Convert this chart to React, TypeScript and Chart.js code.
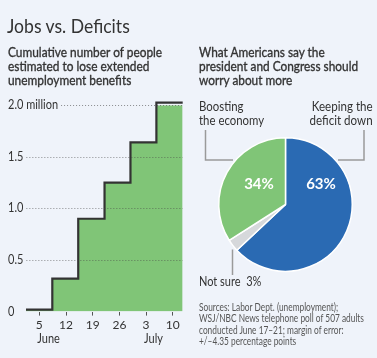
import React, { useEffect, useLayoutEffect, useRef } from 'react';
import { Chart, registerables } from 'chart.js';
Chart.register(...registerables);

// ---- Data ----
const stepDays = [1.5, 8.4, 15.2, 22.1, 28.9, 35.7, 42.6];
const stepValues = [0.02, 0.32, 0.9, 1.25, 1.64, 2.025, 2.025];
const xTickDays = [5, 12, 19, 26, 33, 40];
const xTickLabels = ['5', '12', '19', '26', '3', '10'];
const monthDays = [5, 33];
const monthLabels = ['June', 'July'];
const yTickValues = [0, 0.5, 1, 1.5, 2];
const yTickLabels = ['0', '0.5', '1.0', '1.5', '2.0 million'];

const pieLabels = ['Keeping the deficit down', 'Not sure', 'Boosting the economy'];
const pieValues = [63, 3, 34];
const pieColors = ['#2a6ab3', '#d6d8db', '#80c577'];

const FONT = 'Lato, "Liberation Sans", sans-serif';
const BG = '#eff3fa';

const leftPlugin = {
  id: 'leftDecor',
  afterDatasetsDraw(chart: any) {
    const ctx = chart.ctx;
    const y = chart.scales.y;
    const x = chart.scales.x;
    const area = chart.chartArea;
    const sx = 0.88;
    ctx.save();
    ctx.font = `12.5px ${FONT}`;
    ctx.textBaseline = 'middle';
    ctx.textAlign = 'left';
    yTickValues.forEach((v, i) => {
      const py = y.getPixelForValue(v);
      ctx.save();
      ctx.translate(8, py);
      ctx.scale(sx, 1);
      ctx.fillStyle = '#333';
      ctx.fillText(yTickLabels[i], 0, 0);
      ctx.restore();
      if (v !== 0) {
        const w = ctx.measureText(yTickLabels[i]).width * sx;
        const start = Math.max(area.left, 8 + w + 3);
        ctx.beginPath();
        ctx.setLineDash([1, 2]);
        ctx.lineWidth = 1;
        ctx.strokeStyle = 'rgba(70,70,70,0.6)';
        ctx.moveTo(start, Math.round(py) + 0.5);
        ctx.lineTo(area.right, Math.round(py) + 0.5);
        ctx.stroke();
      }
    });
    ctx.setLineDash([]);
    ctx.fillStyle = '#333';
    monthDays.forEach((d, i) => {
      const px = x.getPixelForValue(d);
      ctx.save();
      ctx.translate(px - 2, 338.5);
      ctx.scale(sx, 1);
      ctx.fillText(monthLabels[i], 0, 0);
      ctx.restore();
    });
    ctx.restore();
  },
};

const piePlugin = {
  id: 'pieDecor',
  afterDatasetsDraw(chart: any) {
    const ctx = chart.ctx;
    const arc = chart.getDatasetMeta(0).data[0];
    const cx = arc.x;
    const cy = arc.y;
    ctx.save();
    ctx.fillStyle = '#fff';
    ctx.font = `bold 15px ${FONT}`;
    ctx.textAlign = 'center';
    ctx.textBaseline = 'middle';
    ctx.fillText(pieValues[2] + '%', cx - 26.5, cy - 20.5);
    ctx.fillText(pieValues[0] + '%', cx + 35.5, cy - 20.5);
    ctx.strokeStyle = '#9a9a9a';
    ctx.lineWidth = 1.5;
    ctx.beginPath();
    ctx.moveTo(cx - 80, cy - 74.5);
    ctx.lineTo(cx - 80, cy - 44.5);
    ctx.lineTo(cx - 52.5, cy - 44.5);
    ctx.moveTo(cx + 78.5, cy - 74.5);
    ctx.lineTo(cx + 78.5, cy - 44.5);
    ctx.lineTo(cx + 52.5, cy - 44.5);
    ctx.moveTo(cx - 53, cy + 45);
    ctx.lineTo(cx - 53, cy + 70.5);
    ctx.stroke();
    ctx.restore();
  },
};

function Fit({ w, right, style, children }: { w: number; right?: boolean; style: React.CSSProperties; children: any }) {
  const ref = useRef<HTMLDivElement>(null);
  useLayoutEffect(() => {
    const fit = () => {
      const el = ref.current;
      if (!el) return;
      el.style.transform = 'none';
      const nat = el.offsetWidth;
      if (nat > 0) el.style.transform = `scaleX(${w / nat})`;
    };
    fit();
    if ((document as any).fonts) (document as any).fonts.ready.then(fit);
  });
  return (
    <div
      ref={ref}
      style={{
        position: 'absolute',
        margin: 0,
        whiteSpace: 'nowrap',
        fontFamily: FONT,
        color: '#333',
        transformOrigin: right ? 'right top' : 'left top',
        textAlign: right ? 'right' : 'left',
        ...style,
      }}
    >
      {children}
    </div>
  );
}

const heavy: React.CSSProperties = { WebkitTextStroke: '0.35px #333' } as any;

export default function App() {
  const leftRef = useRef<HTMLCanvasElement>(null);
  const pieRef = useRef<HTMLCanvasElement>(null);

  useEffect(() => {
    const left = new Chart(leftRef.current!, {
      type: 'line',
      data: {
        datasets: [
          {
            data: stepDays.map((d, i) => ({ x: d, y: stepValues[i] })),
            stepped: 'before' as any,
            borderColor: '#333',
            borderWidth: 2.2,
            backgroundColor: '#80c577',
            fill: 'origin',
            pointRadius: 0,
            clip: false as any,
          },
        ],
      },
      options: {
        responsive: false,
        animation: false,
        layout: { padding: { left: 26, right: 12.3, top: 105.3, bottom: 24 } },
        plugins: { legend: { display: false }, tooltip: { enabled: false } },
        scales: {
          x: {
            type: 'linear',
            min: stepDays[0],
            max: stepDays[stepDays.length - 1],
            afterBuildTicks: (s: any) => {
              s.ticks = xTickDays.map((v) => ({ value: v }));
            },
            ticks: {
              autoSkip: false,
              maxRotation: 0,
              padding: 2,
              color: '#333',
              font: { family: FONT, size: 12 },
              callback: (v: any) => {
                const i = xTickDays.indexOf(Number(v));
                return i >= 0 ? xTickLabels[i] : '';
              },
            },
            grid: { drawOnChartArea: false, drawTicks: true, tickLength: 4, color: '#555', lineWidth: 1 },
            border: { display: false },
          },
          y: { display: false, min: 0, max: 2 },
        },
      },
      plugins: [leftPlugin],
    });

    const pie = new Chart(pieRef.current!, {
      type: 'pie',
      data: {
        labels: pieLabels,
        datasets: [
          {
            data: pieValues,
            backgroundColor: pieColors,
            borderColor: '#fff',
            borderWidth: 1.5,
          },
        ],
      },
      options: {
        responsive: false,
        animation: false,
        layout: { padding: { left: 23, right: 24, top: 137, bottom: 86 } },
        plugins: { legend: { display: false }, tooltip: { enabled: false } },
      },
      plugins: [piePlugin],
    });

    return () => {
      left.destroy();
      pie.destroy();
    };
  }, []);

  return (
    <div style={{ position: 'fixed', left: 0, top: 0, width: 377, height: 358, background: BG, overflow: 'hidden' }}>
      <canvas ref={leftRef} width={195} height={358} style={{ position: 'absolute', left: 0, top: 0, display: 'block' }} />
      <canvas ref={pieRef} width={182} height={358} style={{ position: 'absolute', left: 195, top: 0, display: 'block' }} />
      <Fit w={123} style={{ left: 7, top: 14, fontSize: 20, lineHeight: '22px' }}>
        Jobs vs. Deficits
      </Fit>
      <Fit w={154} style={{ left: 8, top: 44.6, fontSize: 13.5, lineHeight: '14.2px', ...heavy }}>
        Cumulative number of people
        <br />
        estimated to lose extended
        <br />
        unemployment benefits
      </Fit>
      <Fit w={158.7} style={{ left: 199, top: 44.6, fontSize: 13.5, lineHeight: '14.2px', ...heavy }}>
        What Americans say the
        <br />
        president and Congress should
        <br />
        worry about more
      </Fit>
      <Fit w={65} style={{ left: 199, top: 99, fontSize: 13.5, lineHeight: '14.2px' }}>
        Boosting
        <br />
        the economy
      </Fit>
      <Fit w={63.4} right style={{ right: 4.3, top: 99, fontSize: 13.5, lineHeight: '14.2px' }}>
        Keeping the
        <br />
        deficit down
      </Fit>
      <Fit w={62.7} style={{ left: 199, top: 274, fontSize: 13.5, lineHeight: '14.2px' }}>
        Not sure&nbsp;&nbsp;3%
      </Fit>
      <Fit w={165} style={{ left: 199, top: 301, fontSize: 12, lineHeight: '11.4px', color: '#555' }}>
        Sources: Labor Dept. (unemployment);
        <br />
        WSJ/NBC News telephone poll of 507 adults
        <br />
        conducted June 17–21; margin of error:
        <br />
        +/–4.35 percentage points
      </Fit>
    </div>
  );
}
